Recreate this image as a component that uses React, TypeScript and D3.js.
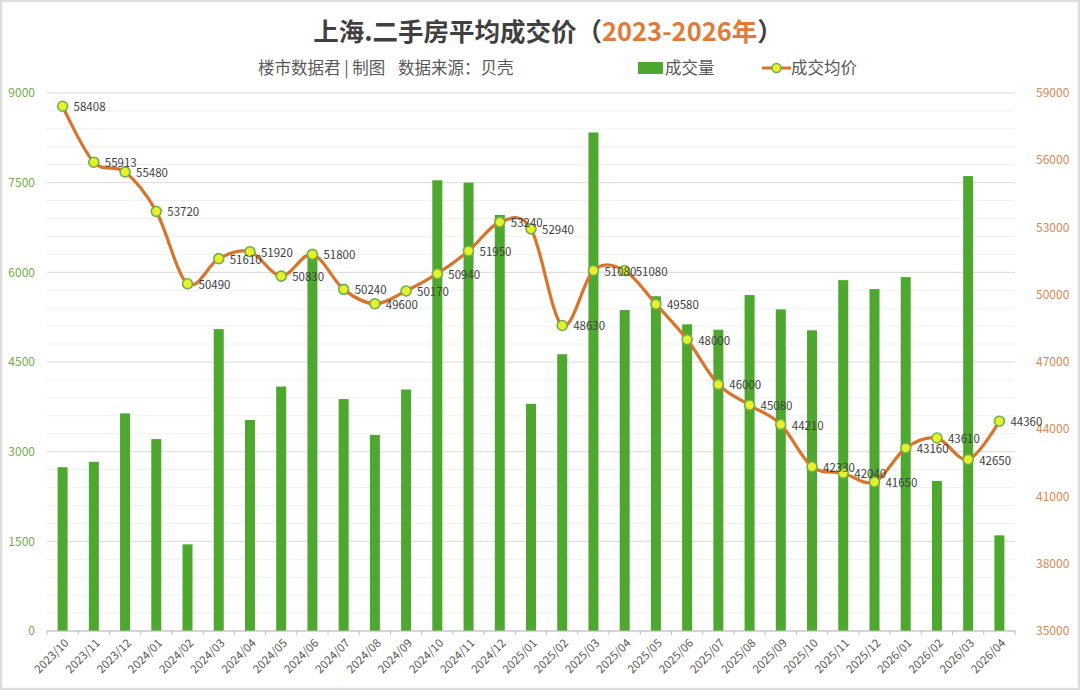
import * as d3 from 'd3';

const months = [
  '2023/10', '2023/11', '2023/12',
  '2024/01', '2024/02', '2024/03', '2024/04', '2024/05', '2024/06',
  '2024/07', '2024/08', '2024/09', '2024/10', '2024/11', '2024/12',
  '2025/01', '2025/02', '2025/03', '2025/04', '2025/05', '2025/06',
  '2025/07', '2025/08', '2025/09', '2025/10', '2025/11', '2025/12',
  '2026/01', '2026/02', '2026/03', '2026/04',
];

// 成交量 (left axis)
const volume = [
  2740, 2830, 3640,
  3210, 1450, 5050, 3530, 4090, 6320,
  3880, 3280, 4040, 7540, 7500, 6960,
  3800, 4630, 8340, 5370, 5600, 5130,
  5040, 5620, 5380, 5030, 5870, 5720,
  5920, 2510, 7610, 1600,
];

// 成交均价 (right axis)
const price = [
  58408, 55913, 55480,
  53720, 50490, 51610, 51920, 50830, 51800,
  50240, 49600, 50170, 50940, 51950, 53240,
  52940, 48630, 51080, 51080, 49580, 48000,
  46000, 45080, 44210, 42330, 42040, 41650,
  43160, 43610, 42650, 44360,
];

const leftTicks = [0, 1500, 3000, 4500, 6000, 7500, 9000];
const rightTicks = [35000, 38000, 41000, 44000, 47000, 50000, 53000, 56000, 59000];

const W = 1080;
const H = 690;
const PLOT = { left: 47, right: 1015, top: 93, bottom: 631 };

const FONT = '"Noto Sans CJK SC", "Noto Sans", sans-serif';
const GREEN = '#4ea72e';
const ORANGE = '#d8742c';
const TEXT = '#404040';

export default function App() {
  const x = d3
    .scaleBand<string>()
    .domain(months)
    .range([PLOT.left, PLOT.right])
    .paddingInner(0.68)
    .paddingOuter(0.34);
  const step = x.step();
  const cx = (m: string) => (x(m) ?? 0) + x.bandwidth() / 2;

  const yL = d3.scaleLinear().domain([0, 9000]).range([PLOT.bottom, PLOT.top]);
  const yR = d3.scaleLinear().domain([35000, 59000]).range([PLOT.bottom, PLOT.top]);

  const pts: [number, number][] = months.map((m, i) => [cx(m), yR(price[i])]);
  const linePath = d3.line().curve(d3.curveCatmullRom.alpha(0))(pts) ?? '';

  const grid = d3.range(0, 9001, 300);
  const boundaries = d3.range(months.length + 1).map((i) => PLOT.left + i * step);

  return (
    <div style={{ position: 'fixed', left: 0, top: 0 }}>
      <svg width={W} height={H} style={{ display: 'block', fontFamily: FONT }}>
        <rect x={0} y={0} width={W} height={H} fill="#fff" />
        <rect x={1} y={1} width={W - 2} height={H - 2} fill="none" stroke="#dcdcdc" strokeWidth={2.5} />

        {/* Title */}
        <text x={548} y={41} textAnchor="middle" fontSize={25.5} fontWeight={700} fill={TEXT}>
          上海.二手房平均成交价（<tspan fill="#e07b39">2023-2026年</tspan>）
        </text>
        <text x={258} y={74} fontSize={16.5} fill="#595959">
          楼市数据君 | 制图
        </text>
        <text x={398} y={74} fontSize={16.5} fill="#595959">
          数据来源：贝壳
        </text>

        {/* Legend */}
        <rect x={638} y={62} width={25} height={12} fill={GREEN} />
        <text x={665} y={74} fontSize={16.5} fill="#595959">成交量</text>
        <line x1={762} y1={68} x2={791} y2={68} stroke={ORANGE} strokeWidth={3} />
        <circle cx={776.5} cy={68} r={4.5} fill="#e8f02a" stroke="#6ab04c" strokeWidth={1.5} />
        <text x={791} y={74} fontSize={16.5} fill="#595959">成交均价</text>

        {/* Grid */}
        {grid.map((v) => (
          <line
            key={v}
            x1={PLOT.left}
            x2={PLOT.right}
            y1={yL(v)}
            y2={yL(v)}
            stroke={v % 1500 === 0 ? '#d9d9d9' : '#efefef'}
            strokeWidth={1}
          />
        ))}

        {/* Left axis labels */}
        {leftTicks.map((v) => (
          <text key={v} x={35} y={yL(v)} dy="0.35em" textAnchor="end" fontSize={12} fill="#70ad47">
            {v}
          </text>
        ))}
        {/* Right axis labels */}
        {rightTicks.map((v) => (
          <text key={v} x={1036} y={yR(v)} dy="0.35em" fontSize={12} fill="#d9874f">
            {v}
          </text>
        ))}

        {/* Bars */}
        {months.map((m, i) => (
          <rect
            key={m}
            x={x(m)}
            y={yL(volume[i])}
            width={x.bandwidth()}
            height={yL(0) - yL(volume[i])}
            fill={GREEN}
          />
        ))}

        {/* X axis */}
        <line x1={PLOT.left} x2={PLOT.right} y1={PLOT.bottom} y2={PLOT.bottom} stroke="#bfbfbf" />
        {boundaries.map((bx, i) => (
          <line key={i} x1={bx} x2={bx} y1={PLOT.bottom} y2={PLOT.bottom + 4} stroke="#bfbfbf" />
        ))}
        {months.map((m) => (
          <text
            key={m}
            transform={`translate(${cx(m) + 4},${PLOT.bottom + 10}) rotate(-45)`}
            textAnchor="end"
            dy="0.35em"
            fontSize={11.5}
            fill="#595959"
          >
            {m}
          </text>
        ))}

        {/* Price line */}
        <path d={linePath} fill="none" stroke={ORANGE} strokeWidth={3.2} strokeLinecap="round" />
        {pts.map(([px, py], i) => (
          <circle key={i} cx={px} cy={py} r={5} fill="#e8f02a" stroke="#6ab04c" strokeWidth={1.6} />
        ))}
        {pts.map(([px, py], i) => (
          <text key={i} x={px + 11} y={py + 1} dy="0.35em" fontSize={11.5} fill={TEXT}>
            {price[i]}
          </text>
        ))}
      </svg>
    </div>
  );
}
